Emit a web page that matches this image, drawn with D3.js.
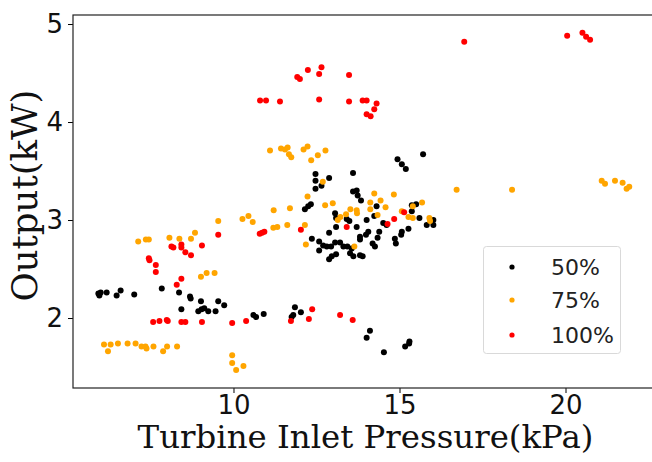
<!DOCTYPE html>
<html>
<head>
<meta charset="utf-8">
<script src="https://cdn.jsdelivr.net/npm/d3@7"></script>
<style>
  html, body { margin: 0; padding: 0; background: #fff; }
  svg { display: block; }
</style>
</head>
<body>
<svg id="chart" width="652" height="462"></svg>
<script>
// ---- data ----
const seriesNames = ["50%", "75%", "100%"];
const seriesColors = ["#000000", "#FFA500", "#FF0000"];
const xTicks = [10, 15, 20];
const yTicks = [2, 3, 4, 5];

const x50 = [5.93,5.96,6.00,6.18,6.48,6.60,7.01,7.84,8.36,8.69,8.71,9.02,9.54,9.72,8.43,8.94,9.04,9.12,9.24,9.46,10.60,10.68,10.91,
  11.85,11.75,11.80,12.03,14.11,14.01,14.53,15.17,15.29,15.30,
  15.71,14.94,15.07,15.19,12.47,12.47,12.47,12.65,12.88,13.60,13.60,13.71,13.74,13.84,
  12.33,12.25,12.15,13.06,13.09,13.41,13.49,14.01,14.31,14.24,14.51,14.61,13.09,13.71,12.88,14.06,13.99,14.39,14.34,15.27,15.07,15.05,14.86,14.89,15.37,15.50,15.37,15.60,15.82,16.02,16.02,
  12.36,12.58,12.70,12.81,12.94,13.06,13.21,13.31,13.43,13.56,13.81,13.81,14.19,14.26,
  12.58,12.88,12.96,13.09,13.51,13.61,13.81,13.89];
const y50 = [2.25,2.23,2.26,2.26,2.23,2.28,2.24,2.30,2.26,2.22,2.20,2.17,2.17,2.13,2.09,2.07,2.09,2.10,2.07,2.07,2.03,2.01,2.04,
  2.11,2.01,2.03,2.06,1.87,1.80,1.65,1.71,1.74,1.76,
  3.67,3.62,3.57,3.52,3.47,3.40,3.32,3.35,3.43,3.48,3.29,3.30,3.25,3.20,
  3.16,3.14,3.11,3.07,3.02,3.01,2.99,3.00,3.14,3.04,2.97,2.95,2.93,2.93,2.87,2.88,2.85,2.88,2.82,2.91,2.88,2.85,2.81,2.76,3.15,3.16,3.09,3.02,2.95,2.95,3.00,
  2.81,2.78,2.74,2.73,2.73,2.77,2.77,2.73,2.73,2.71,2.83,2.80,2.76,2.73,
  2.69,2.60,2.63,2.65,2.66,2.63,2.64,2.63];

const x75 = [7.13,7.36,7.45,8.07,8.37,8.72,8.84,9.54,10.27,10.45,10.58,9.02,9.19,9.43,
  6.10,6.22,6.30,6.52,6.81,7.05,7.23,7.35,7.38,7.59,7.88,8.00,8.30,
  9.96,9.96,10.08,10.30,
  11.10,11.43,11.55,11.63,11.67,11.74,12.11,12.23,12.54,12.77,12.34,12.69,12.23,14.24,14.83,16.72,
  14.43,14.12,12.99,12.76,11.21,11.70,13.52,13.71,13.72,14.12,14.58,13.39,13.22,13.14,14.34,15.07,15.40,15.68,15.27,15.40,15.90,15.92,11.20,11.32,11.62,12.15,12.18,13.64,
  18.39,21.09,21.19,21.49,21.72,21.84,21.92];
const y75 = [2.78,2.80,2.80,2.82,2.81,2.81,2.87,2.99,3.01,3.04,2.98,2.42,2.46,2.46,
  1.73,1.66,1.73,1.74,1.74,1.74,1.71,1.71,1.69,1.71,1.66,1.71,1.71,
  1.62,1.54,1.47,1.51,
  3.71,3.73,3.72,3.74,3.67,3.64,3.72,3.75,3.66,3.71,3.61,3.39,3.24,3.27,3.26,3.31,
  3.20,3.18,3.17,3.15,3.10,3.12,3.11,3.10,3.07,3.11,3.13,3.06,3.03,3.00,3.05,3.09,3.14,3.18,3.03,3.02,3.02,2.99,2.92,2.93,2.95,2.95,2.75,2.73,
  3.31,3.40,3.37,3.40,3.38,3.32,3.34];

const x100 = [7.45,7.47,7.66,7.66,8.13,8.19,8.43,8.43,8.55,8.72,9.05,9.54,10.79,10.86,10.93,8.29,8.43,
  7.58,7.77,7.99,8.02,8.43,8.55,9.05,9.96,10.38,
  10.80,10.98,11.40,11.92,12.00,12.24,12.58,12.65,12.58,13.48,13.48,13.89,14.01,14.31,14.24,14.01,14.13,
  12.03,13.41,14.64,14.84,15.14,
  11.73,12.37,12.27,13.21,13.59,
  16.95,20.05,20.51,20.62,20.74];
const y100 = [2.61,2.59,2.54,2.47,2.73,2.72,2.75,2.72,2.67,2.64,2.74,2.85,2.86,2.87,2.88,2.34,2.40,
  1.96,1.97,1.98,1.97,1.96,1.96,1.96,1.95,1.97,
  4.22,4.22,4.21,4.46,4.44,4.53,4.49,4.56,4.23,4.48,4.21,4.22,4.22,4.19,4.13,4.08,4.06,
  2.90,2.93,2.96,3.01,3.08,
  1.97,2.09,1.99,2.03,1.98,
  4.82,4.88,4.91,4.87,4.84];

const series = [
  { name: seriesNames[0], color: seriesColors[0], xs: x50, ys: y50 },
  { name: seriesNames[1], color: seriesColors[1], xs: x75, ys: y75 },
  { name: seriesNames[2], color: seriesColors[2], xs: x100, ys: y100 }
];

// ---- layout ----
const svg = d3.select("#chart");
const L = 73, R = 660, T = 15, B = 388;

const x = d3.scaleLinear().domain([5.166, 22.846]).range([L, R]);
const y = d3.scaleLinear().domain([1.286, 5.092]).range([B, T]);

// points
series.forEach(s => {
  svg.append("g").selectAll("circle")
    .data(s.xs.map((v, i) => [v, s.ys[i]]))
    .join("circle")
    .attr("cx", d => x(d[0]))
    .attr("cy", d => y(d[1]))
    .attr("r", 3)
    .attr("fill", s.color);
});

// axes
const xAxis = svg.append("g")
  .attr("transform", `translate(0,${B})`)
  .call(d3.axisBottom(x).tickValues(xTicks).tickSize(5).tickPadding(3).tickFormat(d3.format("d")));
const yAxis = svg.append("g")
  .attr("transform", `translate(${L},0)`)
  .call(d3.axisLeft(y).tickValues(yTicks).tickSize(5).tickPadding(5).tickFormat(d3.format("d")));
[xAxis, yAxis].forEach(g => {
  g.select(".domain").remove();
  g.selectAll(".tick line").attr("stroke", "#000").attr("stroke-width", 1);
  g.selectAll(".tick text")
    .attr("fill", "#111")
    .style("font-family", "'DejaVu Sans', sans-serif")
    .style("font-size", "26px");
});

// frame (left, top, bottom spines)
svg.append("rect")
  .attr("x", L).attr("y", T)
  .attr("width", R - L).attr("height", B - T)
  .attr("fill", "none").attr("stroke", "#222").attr("stroke-width", 1.2);

// axis titles
const xt = svg.append("text")
  .attr("x", (L + R) / 2 - 1).attr("y", 448)
  .attr("text-anchor", "middle")
  .attr("fill", "#111")
  .style("font-family", "'DejaVu Serif', serif")
  .style("font-size", "30px")
  .text("Turbine Inlet Pressure(kPa)");
const xl = xt.node().getComputedTextLength();
xt.style("font-size", (30 * 456 / xl) + "px");

const yt = svg.append("text")
  .attr("transform", `translate(37,${(T + B) / 2 - 6}) rotate(-90)`)
  .attr("text-anchor", "middle")
  .attr("fill", "#111")
  .style("font-family", "'DejaVu Serif', serif")
  .style("font-size", "30px")
  .text("Output(kW)");
const yl = yt.node().getComputedTextLength();
yt.style("font-size", (30 * 212 / yl) + "px");

// legend
const lg = svg.append("g");
lg.append("rect")
  .attr("x", 483.5).attr("y", 246.5).attr("width", 137).attr("height", 107)
  .attr("rx", 3).attr("ry", 3)
  .attr("fill", "#fff").attr("fill-opacity", 0.8)
  .attr("stroke", "#d9d9d9").attr("stroke-width", 1);
const rowsY = [267, 300, 335];
series.forEach((s, i) => {
  lg.append("circle").attr("cx", 512).attr("cy", rowsY[i]).attr("r", 2.6).attr("fill", s.color);
  lg.append("text")
    .attr("x", 551).attr("y", rowsY[i])
    .attr("dy", "0.36em")
    .attr("fill", "#222")
    .style("font-family", "'DejaVu Sans', sans-serif")
    .style("font-size", "22px")
    .text(s.name);
});
</script>
</body>
</html>
